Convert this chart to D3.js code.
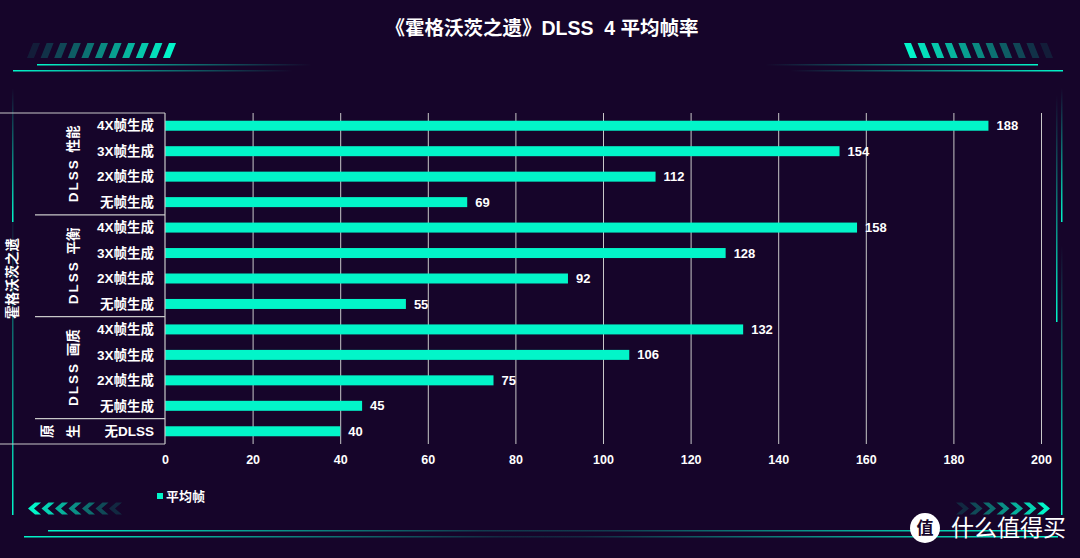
<!DOCTYPE html>
<html>
<head>
<meta charset="utf-8">
<script src="https://cdn.jsdelivr.net/npm/d3@7/dist/d3.min.js"></script>
<style>
  html, body { margin: 0; padding: 0; background: #16052a; }
  svg text { font-family: "Liberation Sans", "Noto Sans CJK SC", sans-serif; fill: #fff; }
</style>
</head>
<body>
<div id="chart"></div>
<script>
// data
var title = "《霍格沃茨之遗》DLSS\u00a0\u00a04 平均帧率";
var gameLabel = "霍格沃茨之遗";
var categories = ["4X帧生成", "3X帧生成", "2X帧生成", "无帧生成",
                  "4X帧生成", "3X帧生成", "2X帧生成", "无帧生成",
                  "4X帧生成", "3X帧生成", "2X帧生成", "无帧生成",
                  "无DLSS"];
var values = [188, 154, 112, 69, 158, 128, 92, 55, 132, 106, 75, 45, 40];
var groups = ["DLSS 性能", "DLSS 平衡", "DLSS 画质", "原生"];
var groupSizes = [4, 4, 4, 1];
var ticks = [0, 20, 40, 60, 80, 100, 120, 140, 160, 180, 200];
var seriesName = "平均帧";

var W = 1080, H = 558;
var teal = "#02f5c9", bg = "#16052a", lineCol = "#c8c8c8";
var margin = {top: 113, left: 165, right: 39, bottom: 114};
var width = W - margin.left - margin.right,
    height = H - margin.top - margin.bottom;

var svg = d3.select("#chart").append("svg")
    .attr("width", W).attr("height", H);

svg.append("rect").attr("width", W).attr("height", H).attr("fill", bg);

var defs = svg.append("defs");
function grad(id, x1, y1, x2, y2, op1, op2) {
  var gr = defs.append("linearGradient").attr("id", id)
    .attr("x1", x1).attr("y1", y1).attr("x2", x2).attr("y2", y2);
  gr.append("stop").attr("offset", "0%").attr("stop-color", teal).attr("stop-opacity", op1);
  gr.append("stop").attr("offset", "100%").attr("stop-color", teal).attr("stop-opacity", op2);
}
grad("gR", "0%", "0%", "100%", "0%", 1, 0);   // bright left
grad("gL", "0%", "0%", "100%", "0%", 0, 1);   // bright right
grad("gD", "0%", "0%", "0%", "100%", 0, 1);   // bright bottom

// ---- decoration ----
var deco = svg.append("g");
// top lines
deco.append("rect").attr("x", 37).attr("y", 64).attr("width", 275).attr("height", 1.5).attr("fill", "url(#gR)");
deco.append("rect").attr("x", 13).attr("y", 70).attr("width", 280).attr("height", 1.5).attr("fill", "url(#gR)");
deco.append("rect").attr("x", 765).attr("y", 64).attr("width", 273).attr("height", 1.5).attr("fill", "url(#gL)");
deco.append("rect").attr("x", 790).attr("y", 70).attr("width", 273).attr("height", 1.5).attr("fill", "url(#gL)");
// bottom lines
deco.append("rect").attr("x", 48).attr("y", 530).attr("width", 560).attr("height", 1.5).attr("fill", "url(#gR)");
deco.append("rect").attr("x", 24).attr("y", 536).attr("width", 560).attr("height", 1.5).attr("fill", "url(#gR)");
deco.append("rect").attr("x", 480).attr("y", 530).attr("width", 552).attr("height", 1.5).attr("fill", "url(#gL)");
deco.append("rect").attr("x", 500).attr("y", 536).attr("width", 558).attr("height", 1.5).attr("fill", "url(#gL)");
// vertical side lines
deco.append("rect").attr("x", 12).attr("y", 88).attr("width", 1.5).attr("height", 134).attr("fill", "url(#gD)");
deco.append("rect").attr("x", 12).attr("y", 200).attr("width", 1.5).attr("height", 315).attr("fill", "url(#gD)");
deco.append("rect").attr("x", 1061).attr("y", 88).attr("width", 1.5).attr("height", 134).attr("fill", "url(#gD)");
deco.append("rect").attr("x", 1056).attr("y", 95).attr("width", 1.5).attr("height", 227).attr("fill", "url(#gD)");
deco.append("rect").attr("x", 1061).attr("y", 245).attr("width", 1.5).attr("height", 270).attr("fill", "url(#gD)");

// slanted stripes
var stripeIdx = d3.range(11);
deco.selectAll(".sl").data(stripeIdx).enter().append("path")
  .attr("d", function(i) {
    var x = 27 + i * 13.6;
    return "M" + (x + 6) + ",43 L" + (x + 13) + ",43 L" + (x + 7) + ",58 L" + x + ",58 Z";
  })
  .attr("fill", teal).attr("fill-opacity", function(i) { return 0.1 + 0.9 * i / 10; });
deco.selectAll(".sr").data(stripeIdx).enter().append("path")
  .attr("d", function(i) {
    var x = 1053 - i * 13.6;
    return "M" + (x - 6) + ",43 L" + (x - 13) + ",43 L" + (x - 7) + ",58 L" + x + ",58 Z";
  })
  .attr("fill", teal).attr("fill-opacity", function(i) { return 0.1 + 0.9 * i / 10; });

// chevrons
var chevIdx = d3.range(7);
deco.selectAll(".cl").data(chevIdx).enter().append("path")
  .attr("d", function(i) {
    var x = 28 + i * 13.5;
    return "M" + (x + 7) + ",502.5 L" + (x + 13) + ",502.5 L" + (x + 6) + ",508.5 L" + (x + 13) + ",514.5 L" + (x + 7) + ",514.5 L" + x + ",508.5 Z";
  })
  .attr("fill", teal).attr("fill-opacity", function(i) { return 1 - 0.85 * i / 6; });
deco.selectAll(".cr").data(chevIdx).enter().append("path")
  .attr("d", function(i) {
    var x = 1050 - i * 13.5;
    return "M" + (x - 7) + ",502.5 L" + (x - 13) + ",502.5 L" + (x - 6) + ",508.5 L" + (x - 13) + ",514.5 L" + (x - 7) + ",514.5 L" + x + ",508.5 Z";
  })
  .attr("fill", teal).attr("fill-opacity", function(i) { return 1 - 0.85 * i / 6; });

// title
svg.append("text")
  .attr("x", W / 2 + 2).attr("y", 35)
  .attr("text-anchor", "middle")
  .style("font-size", "19.5px").style("font-weight", "bold")
  .text(title);

// ---- chart ----
var g = svg.append("g")
  .attr("transform", "translate(" + margin.left + "," + margin.top + ")");

var x = d3.scaleLinear().domain([0, 200]).range([0, width]);
var row = d3.scaleBand().domain(d3.range(categories.length)).range([0, height]);

// gridlines
g.selectAll(".grid").data(ticks.slice(1)).enter().append("line")
  .attr("x1", function(d) { return x(d) + 0.5; })
  .attr("x2", function(d) { return x(d) + 0.5; })
  .attr("y1", 0).attr("y2", height)
  .attr("stroke", lineCol).attr("stroke-width", 1);

// x axis
var xAxis = g.append("g")
  .attr("transform", "translate(0," + height + ")")
  .call(d3.axisBottom(x).tickValues(ticks).tickSize(0).tickPadding(11));
xAxis.select(".domain").remove();
xAxis.selectAll("text")
  .style("font-size", "12.5px").style("font-weight", "bold")
  .attr("fill", "#fff");

// bars
g.selectAll(".bar").data(values).enter().append("rect")
  .attr("class", "bar")
  .attr("x", 0)
  .attr("y", function(d, i) { return row(i) + row.bandwidth() / 2 - 5; })
  .attr("width", function(d) { return x(d); })
  .attr("height", 10)
  .attr("fill", teal);

// value labels
g.selectAll(".val").data(values).enter().append("text")
  .attr("x", function(d) { return x(d) + 8; })
  .attr("y", function(d, i) { return row(i) + row.bandwidth() / 2; })
  .attr("dy", "0.35em")
  .style("font-size", "13px").style("font-weight", "bold")
  .text(function(d) { return d; });

// category labels
g.selectAll(".cat").data(categories).enter().append("text")
  .attr("x", -11)
  .attr("y", function(d, i) { return row(i) + row.bandwidth() / 2; })
  .attr("dy", "0.35em")
  .attr("text-anchor", "end")
  .style("font-size", "13.5px").style("font-weight", "bold")
  .text(function(d) { return d; });

// ---- table lines on the left ----
var tbl = svg.append("g").attr("stroke", lineCol).attr("stroke-width", 1.2);
var yTop = margin.top, yBottom = margin.top + height;
tbl.append("line").attr("x1", 0).attr("x2", margin.left).attr("y1", yTop).attr("y2", yTop);
tbl.append("line").attr("x1", 0).attr("x2", margin.left).attr("y1", yBottom).attr("y2", yBottom);
tbl.append("line").attr("x1", margin.left).attr("x2", margin.left).attr("y1", yTop).attr("y2", yBottom);

var starts = [], acc = 0;
groupSizes.forEach(function(n) { starts.push(acc); acc += n; });
starts.slice(1).forEach(function(s) {
  var yy = yTop + row(s);
  tbl.append("line").attr("x1", 35).attr("x2", margin.left).attr("y1", yy).attr("y2", yy);
});

// group labels
groups.forEach(function(name, k) {
  var s = starts[k], n = groupSizes[k];
  var cy = yTop + row(s) + (n * row.step()) / 2;
  if (n > 1) {
    var parts = name.split(" ");
    var t = svg.append("text")
      .attr("transform", "translate(73," + cy + ") rotate(-90)")
      .attr("text-anchor", "middle")
      .attr("dy", "0.35em")
      .style("font-size", "13.5px").style("font-weight", "bold");
    // latin letters are spaced out, the CJK part is not
    t.append("tspan").style("letter-spacing", "2px").text(parts[0] + " ");
    t.append("tspan").text(parts[1]);
  } else {
    // too short a cell: characters wrap side by side
    name.split("").forEach(function(ch, j) {
      svg.append("text")
        .attr("transform", "translate(" + (47 + j * 26) + "," + cy + ") rotate(-90)")
        .attr("text-anchor", "middle")
        .attr("dy", "0.35em")
        .style("font-size", "13.5px").style("font-weight", "bold")
        .text(ch);
    });
  }
});

// game label
svg.append("text")
  .attr("transform", "translate(12," + ((yTop + yBottom) / 2) + ") rotate(-90)")
  .attr("text-anchor", "middle")
  .attr("dy", "0.35em")
  .style("font-size", "13.5px").style("font-weight", "bold")
  .text(gameLabel);

// legend
svg.append("rect").attr("x", 157).attr("y", 493).attr("width", 6).attr("height", 6).attr("fill", teal);
svg.append("text").attr("x", 166).attr("y", 496).attr("dy", "0.35em")
  .style("font-size", "13px").style("font-weight", "bold")
  .text(seriesName);

// watermark
svg.append("circle").attr("cx", 925).attr("cy", 528).attr("r", 15).attr("fill", "#fff");
svg.append("text").attr("x", 925).attr("y", 528).attr("dy", "0.36em")
  .attr("text-anchor", "middle")
  .style("font-size", "17px").style("font-weight", "bold")
  .style("fill", "#16052a")
  .text("值");
svg.append("text").attr("x", 951).attr("y", 528).attr("dy", "0.36em")
  .style("font-size", "23px")
  .text("什么值得买");
</script>
</body>
</html>
